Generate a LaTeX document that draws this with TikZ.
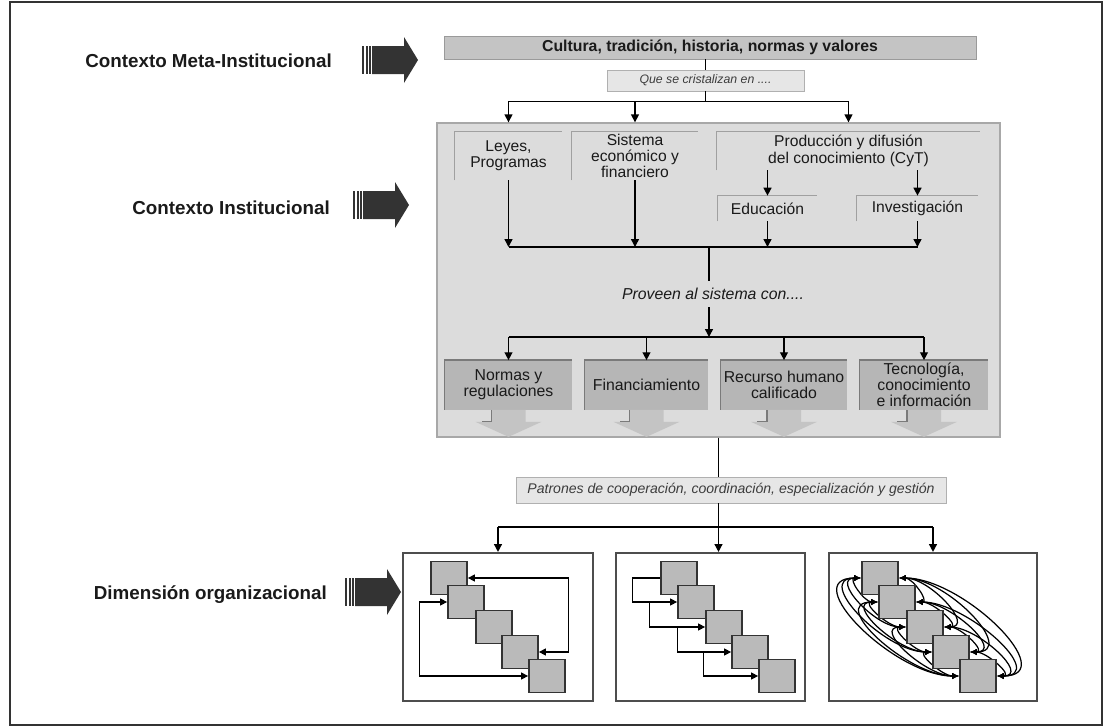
\documentclass[tikz,border=0pt]{standalone}
\usepackage{fontspec}
\setmainfont{Liberation Sans}
\usetikzlibrary{arrows.meta, calc}

\definecolor{ink}{HTML}{1A1A1A}
\definecolor{dark}{HTML}{333333}
\definecolor{barfill}{HTML}{C4C4C4}
\definecolor{barline}{HTML}{9A9A9A}
\definecolor{quefill}{HTML}{E6E6E6}
\definecolor{queline}{HTML}{B0B0B0}
\definecolor{panelfill}{HTML}{DCDCDC}
\definecolor{panelline}{HTML}{A8A8A8}
\definecolor{subline}{HTML}{A0A0A0}
\definecolor{boxfill}{HTML}{B6B6B6}
\definecolor{boxline}{HTML}{7A7A7A}
\definecolor{arrfill}{HTML}{C4C4C4}
\definecolor{orgline}{HTML}{4D4D4D}
\definecolor{sqfill}{HTML}{BABABA}
\definecolor{sqline}{HTML}{333333}

\tikzset{
  ctxlabel/.style={anchor=east, text=ink, font=\fontsize{10.7}{12}\selectfont\bfseries},
  subbox/.style={text=ink, align=center, inner sep=0pt, font=\fontsize{8.9}{9.3}\selectfont},
  resbox/.style={fill=boxfill, text=ink, align=center, inner sep=0pt, minimum height=0.98cm,
    font=\fontsize{9}{9}\selectfont},
  orgbox/.style={draw=orgline, line width=1.2pt, minimum height=2.96cm, inner sep=0pt},
  sq/.style={fill=sqfill, draw=sqline, line width=1pt, minimum width=0.72cm, minimum height=0.66cm, inner sep=0pt},
  line/.style={draw=black, line width=0.8pt},
  arr/.style={line, -{Triangle[length=4.5pt,width=4.5pt]}},
  link/.style={line, line width=0.7pt, -{Triangle[length=4pt,width=4pt]}},
  mesh/.style={line, line width=0.7pt, {Latex[length=4pt,width=3.6pt]}-{Latex[length=4pt,width=3.6pt]}},
}

\begin{document}
\begin{tikzpicture}[x=0.02cm, y=-0.02cm]
  \useasboundingbox (0,0) rectangle (1103,727);
  \draw[dark, line width=1pt] (10,2) rectangle (1102,725);

  % contexts on the left
  \node[ctxlabel] (lmeta) at (338,61) {Contexto Meta-Institucional};
  \node[ctxlabel] (linst) at (336,208) {Contexto Institucional};
  \node[ctxlabel] (lorg) at (333,595) {Dimensión organizacional};
  \foreach \x/\y in {362/60, 353/205, 345/592} {
    \fill[dark] (\x,\y-14) rectangle (\x+2,\y+14);
    \fill[dark] (\x+3.5,\y-14) rectangle (\x+5.5,\y+14);
    \fill[dark] (\x+7,\y-14) rectangle (\x+8.5,\y+14);
    \fill[dark] (\x+10,\y-14) -- (\x+42,\y-14) -- (\x+42,\y-23) -- (\x+56,\y)
      -- (\x+42,\y+23) -- (\x+42,\y+14) -- (\x+10,\y+14) -- cycle;
  }

  % meta-institucional
  \node[fill=barfill, draw=barline, minimum width=10.64cm, minimum height=0.46cm, inner sep=0pt,
    text=ink, font=\fontsize{9}{10}\selectfont\bfseries] (topbar) at (710,47.5)
    {Cultura, tradición, historia, normas y valores};
  \node[fill=quefill, draw=queline, minimum width=3.94cm, minimum height=0.42cm, inner sep=0pt,
    text=ink!85, font=\fontsize{7}{8}\selectfont\itshape] (que) at (705.5,80.5) {Que se cristalizan en ....};

  % institucional
  \node[fill=panelfill, draw=panelline, line width=0.8pt, minimum width=11.26cm, minimum height=6.28cm,
    inner sep=0pt] (panel) at (718.5,280) {};
  \node[subbox, minimum width=2.14cm, minimum height=0.96cm] (leyes) at (508.5,156) {Leyes,\\Programas};
  \node[subbox, minimum width=2.52cm, minimum height=0.96cm] (sistema) at (635,156) {Sistema\\económico y\\financiero};
  \node[subbox, minimum width=5.26cm, minimum height=0.76cm] (prod) at (848.5,151) {Producción y difusión\\del conocimiento (CyT)};
  \node[subbox, minimum width=1.98cm, minimum height=0.5cm] (educ) at (767.5,208.5) {Educación};
  \node[subbox, minimum width=2.42cm, minimum height=0.5cm] (inv) at (917.5,208.5) {Investigación};
  \foreach \n in {leyes, sistema, prod, educ, inv}
    \draw[subline, line width=0.8pt] (\n.south west) |- (\n.north east);
  \node[text=ink, inner sep=4pt, font=\fontsize{9}{10}\selectfont\itshape] (proveen) at (713,294) {Proveen al sistema con....};

  \node[resbox, minimum width=2.54cm] (normas) at (508.5,385) {Normas y\\regulaciones};
  \node[resbox, minimum width=2.46cm] (finan) at (646.5,385) {Financiamiento};
  \node[resbox, minimum width=2.52cm] (recurso) at (784,385) {Recurso humano\\calificado};
  \node[resbox, minimum width=2.56cm] (tecno) at (924,385) {Tecnología,\\conocimiento\\e información};
  \foreach \n in {normas, finan, recurso, tecno} {
    \fill[arrfill] (\n.south) ++(-17,0) -- ++(0,12) -- ++(-16,0) -- ++(33,15) -- ++(33,-15)
      -- ++(-16,0) -- ++(0,-12) -- cycle;
    \draw[boxline, line width=0.8pt] (\n.south west) |- (\n.north east);
    \draw[boxline, line width=0.6pt] (\n.south) ++(-17,0) -- ++(0,12) -- ++(-10,0);
  }

  % organizacional
  \node[fill=quefill, draw=queline, minimum width=8.6cm, minimum height=0.52cm, inner sep=0pt,
    text=ink!85, font=\fontsize{8}{9}\selectfont\itshape] (patrones) at (731,490)
    {Patrones de cooperación, coordinación, especialización y gestión};
  \node[orgbox, minimum width=3.8cm] (org1) at (498,627) {};
  \node[orgbox, minimum width=3.78cm] (org2) at (710.5,627) {};
  \node[orgbox, minimum width=4.16cm] (org3) at (933,627) {};
  \foreach \k/\y [count=\i] in {0/578, 17/602, 45/627, 71/652, 98/676} {
    \node[sq] (a\i) at (449+\k,\y) {};
    \node[sq] (b\i) at (679+\k,\y) {};
    \node[sq] (c\i) at (880+\k,\y) {};
  }

  % connectors
  \draw[line] (que.north |- topbar.south) -- (que.north);
  \draw[line] (que.south) -- ++(0,10) coordinate (spl1);
  \draw[line] (leyes |- spl1) -- (prod |- spl1);
  \foreach \n in {leyes, sistema, prod}
    \draw[arr] (\n |- spl1) -- (\n |- panel.north);

  \coordinate (mrg) at (709,247);
  \coordinate (spl2) at (709,337);
  \draw[arr] (prod.south -| educ) -- (educ.north);
  \draw[arr] (prod.south -| inv) -- (inv.north);
  \foreach \n in {leyes, sistema, educ, inv}
    \draw[arr] (\n.south) -- (\n |- mrg);
  \draw[line] (leyes |- mrg) -- (inv |- mrg);
  \draw[line] (mrg) -- (proveen.north -| mrg);
  \draw[arr] (proveen.south -| mrg) -- (spl2);
  \draw[line] (normas |- spl2) -- (tecno |- spl2);
  \foreach \n in {normas, finan, recurso, tecno}
    \draw[arr] (\n |- spl2) -- (\n.north);

  \coordinate (spl3) at (718.5,527);
  \draw[line] (panel.south) -- (patrones.north -| panel.south);
  \draw[line] (patrones.south -| panel.south) -- (spl3);
  \draw[line] (org1 |- spl3) -- (org3 |- spl3);
  \draw[arr] (org1 |- spl3) -- (org1.north);
  \draw[arr] (org3 |- spl3) -- (org3.north);
  \draw[arr] (spl3) -- (spl3 |- org2.north);

  % inside the three organisations
  \draw[link, {Triangle[length=4pt,width=4pt]}-{Triangle[length=4pt,width=4pt]}] (a4.east) -- ++(30,0) |- (a1.east);
  \draw[link, {Triangle[length=4pt,width=4pt]}-{Triangle[length=4pt,width=4pt]}] (a2.west) -- ++(-28,0) |- (a5.west);

  \draw[link] (b1.west) -- ++(-28,0) |- (b2.west);
  \foreach \i/\j in {2/3, 3/4, 4/5}
    \draw[link] (b\i.west) ++(-28,0) |- (b\j.west);

  \foreach \i/\j in {1/2, 1/3, 1/4, 1/5, 2/3, 2/4, 2/5, 3/4, 3/5, 4/5} {
    \draw[mesh] (c\i.west) to[out=180, in=180, looseness=1.2] (c\j.west);
    \draw[mesh] (c\j.east) to[out=0, in=0, looseness=1.2] (c\i.east);
  }
  % squares again on top of the curves
  \foreach \i in {1,...,5} {
    \node[sq] at (c\i) {};
  }
\end{tikzpicture}
\end{document}
